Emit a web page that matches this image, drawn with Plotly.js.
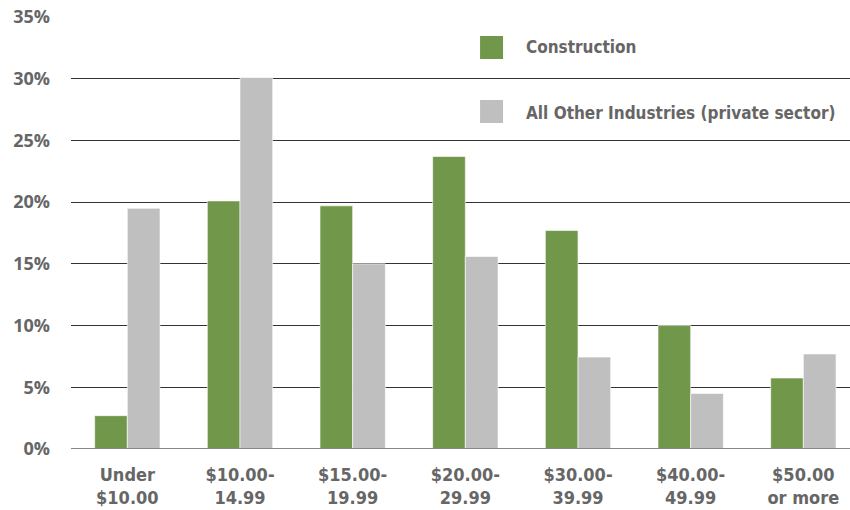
<!DOCTYPE html>
<html><head><meta charset="utf-8">
<script src="https://cdn.plot.ly/plotly-3.0.1.min.js"></script>
<style>body{margin:0;background:#fff}#chart{width:850px;height:510px}</style>
</head><body><div id="chart"></div>
<script>
var categories = ["Under<br>$10.00", "$10.00-<br>14.99", "$15.00-<br>19.99", "$20.00-<br>29.99", "$30.00-<br>39.99", "$40.00-<br>49.99", "$50.00<br>or more"];
var construction = [2.7, 20.1, 19.7, 23.7, 17.7, 10.0, 5.75];
var otherIndustries = [19.5, 30.1, 15.0, 15.6, 7.45, 4.5, 7.7];
var seriesNames = ["Construction", "All Other Industries (private sector)"];
var yTicks = [0, 5, 10, 15, 20, 25, 30, 35];
var yTickLabels = ["0%", "5%", "10%", "15%", "20%", "25%", "30%", "35%"];

var green = "#71984a", gray = "#bfbfbf";
var narrow = "'DejaVu Sans Condensed', 'Liberation Sans Narrow', sans-serif";

var traces = [
  {type: "bar", name: seriesNames[0], x: categories, y: construction,
   marker: {color: green, line: {color: "rgba(255,255,255,0.6)", width: 1}}, showlegend: false},
  {type: "bar", name: seriesNames[1], x: categories, y: otherIndustries,
   marker: {color: gray, line: {color: "rgba(255,255,255,0.6)", width: 1}}, showlegend: false}
];

var layout = {
  width: 850, height: 510,
  margin: {l: 71, r: 0, t: 17, b: 61},
  paper_bgcolor: "#fff", plot_bgcolor: "#fff",
  barmode: "group", bargap: 0.42, bargroupgap: 0,
  xaxis: {range: [-0.5, 6.414], showgrid: false, zeroline: false, showline: false, ticks: "",
          ticklabelstandoff: 13,
          tickfont: {family: narrow, size: 18, color: "#666", weight: "bold"}, fixedrange: true},
  yaxis: {range: [0, 35], tickvals: yTicks, ticktext: yTickLabels, showgrid: true,
          gridcolor: "#333", gridwidth: 1, zeroline: false, showline: false, ticks: "",
          ticklabelstandoff: 20,
          tickfont: {family: "'Open Sans', sans-serif", size: 18, color: "#666", weight: "bold"}},
  shapes: [
    {type: "line", xref: "paper", yref: "y", x0: 0, x1: 1, y0: 0, y1: 0, line: {color: "#888", width: 2}, layer: "above"},
    {type: "rect", xref: "paper", yref: "paper", x0: 0.5251, x1: 0.5546, y0: 0.9028, y1: 0.956, fillcolor: green, line: {width: 0}},
    {type: "rect", xref: "paper", yref: "paper", x0: 0.5251, x1: 0.5546, y0: 0.7546, y1: 0.8079, fillcolor: gray, line: {width: 0}}
  ],
  annotations: [
    {xref: "paper", yref: "paper", x: 0.5815, y: 0.9306, xanchor: "left", yanchor: "middle", showarrow: false,
     text: seriesNames[0], font: {family: narrow, size: 17, color: "#666", weight: "bold"}},
    {xref: "paper", yref: "paper", x: 0.5815, y: 0.778, xanchor: "left", yanchor: "middle", showarrow: false,
     text: seriesNames[1], font: {family: narrow, size: 17, color: "#666", weight: "bold"}}
  ]
};
Plotly.newPlot("chart", traces, layout, {displayModeBar: false, staticPlot: true});
</script></body></html>
